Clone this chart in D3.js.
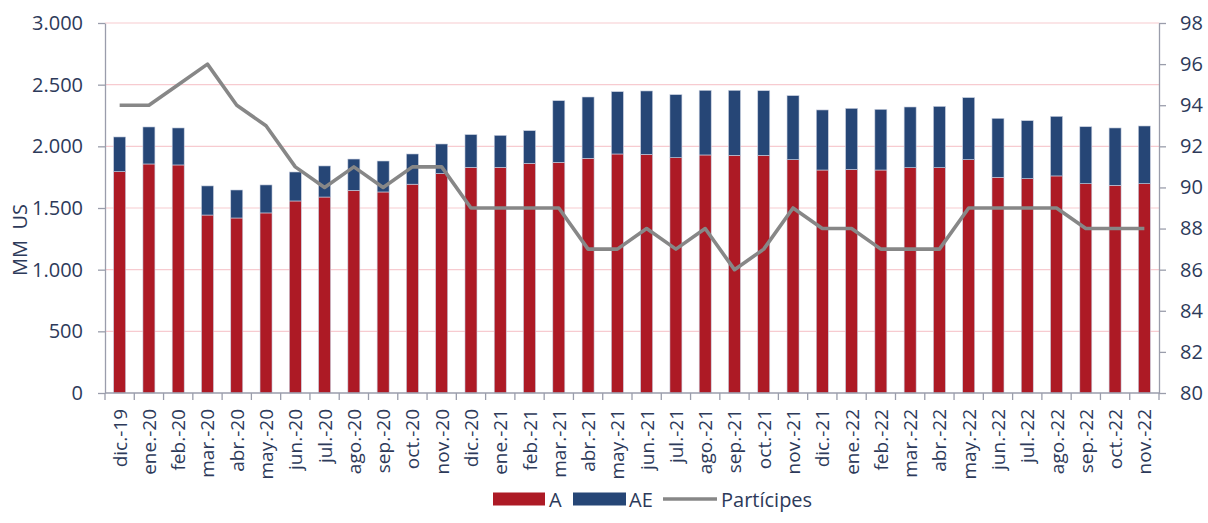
<!DOCTYPE html>
<html>
<head>
<meta charset="utf-8">
<script src="https://cdn.jsdelivr.net/npm/d3@7"></script>
<style>
  body { margin: 0; background: #fff; }
  svg { display: block; font-family: "Open Sans", "Noto Sans", sans-serif; }
</style>
</head>
<body>
<svg id="chart" width="1208" height="523"></svg>
<script>
// months, Dec 2019 .. Nov 2022
var categories = ['dic.-19', 'ene.-20', 'feb.-20', 'mar.-20', 'abr.-20', 'may.-20', 'jun.-20', 'jul.-20',
  'ago.-20', 'sep.-20', 'oct.-20', 'nov.-20', 'dic.-20', 'ene.-21', 'feb.-21', 'mar.-21', 'abr.-21',
  'may.-21', 'jun.-21', 'jul.-21', 'ago.-21', 'sep.-21', 'oct.-21', 'nov.-21', 'dic.-21', 'ene.-22',
  'feb.-22', 'mar.-22', 'abr.-22', 'may.-22', 'jun.-22', 'jul.-22', 'ago.-22', 'sep.-22', 'oct.-22', 'nov.-22'];

// MM US, stacked
var seriesA = [1795, 1857, 1849, 1443, 1419, 1460, 1557, 1589, 1643, 1630, 1693, 1780, 1830, 1830, 1862, 1870,
  1903, 1938, 1935, 1908, 1930, 1927, 1927, 1892, 1808, 1813, 1808, 1827, 1827, 1892, 1749, 1738,
  1760, 1697, 1684, 1697];
var seriesAE = [281, 300, 300, 236, 227, 227, 235, 252, 254, 251, 245, 239, 265, 259, 265, 500,
  497, 505, 514, 511, 524, 527, 524, 519, 487, 495, 492, 492, 497, 503, 478, 470,
  483, 462, 465, 468];

// participants (right axis)
var participes = [94, 94, 95, 96, 94, 93, 91, 90, 91, 90, 91, 91, 89, 89, 89, 89, 87, 87, 88, 87, 88, 86,
  87, 89, 88, 88, 87, 87, 87, 89, 89, 89, 89, 88, 88, 88];

var leftTicks = [0, 500, 1000, 1500, 2000, 2500, 3000];
var rightTicks = [80, 82, 84, 86, 88, 90, 92, 94, 96, 98];

var COL_A = '#AD1A25';
var COL_AE = '#264676';
var COL_LINE = '#878787';
var COL_TEXT = '#2D3A5A';
var COL_AXIS = '#9A9DAB';
var COL_GRID = '#F7CBD0';

var margin = { top: 23, right: 49, bottom: 130, left: 105 };
var svg = d3.select('#chart');
var width = +svg.attr('width') - margin.left - margin.right;
var height = +svg.attr('height') - margin.top - margin.bottom;

var g = svg.append('g').attr('transform', 'translate(' + margin.left + ',' + margin.top + ')');

var xc = d3.scaleBand().domain(categories).range([0, width]);
var y = d3.scaleLinear().domain([0, 3000]).range([height, 0]);
var y2 = d3.scaleLinear().domain([80, 98]).range([height, 0]);
var barW = 12;

// grid
g.selectAll('line.grid')
  .data(leftTicks.slice(1))
  .enter().append('line')
  .attr('class', 'grid')
  .attr('x1', 0).attr('x2', width)
  .attr('y1', function (d) { return y(d); })
  .attr('y2', function (d) { return y(d); })
  .attr('stroke', COL_GRID)
  .attr('stroke-width', 1.2);

// stacked bars
var rows = categories.map(function (c, i) { return { cat: c, A: seriesA[i], AE: seriesAE[i] }; });
var stack = d3.stack().keys(['A', 'AE'])(rows);
var colors = { A: COL_A, AE: COL_AE };

g.selectAll('g.layer')
  .data(stack)
  .enter().append('g')
  .attr('class', 'layer')
  .attr('fill', function (d) { return colors[d.key]; })
  .selectAll('rect')
  .data(function (d) { return d; })
  .enter().append('rect')
  .attr('x', function (d) { return xc(d.data.cat) + (xc.bandwidth() - barW) / 2; })
  .attr('width', barW)
  .attr('y', function (d) { return y(d[1]); })
  .attr('height', function (d) { return y(d[0]) - y(d[1]); })
  .attr('stroke', '#C9D0E0')
  .attr('stroke-width', 0.6);

// participants line
var line = d3.line()
  .x(function (d, i) { return xc(categories[i]) + xc.bandwidth() / 2; })
  .y(function (d) { return y2(d); });

g.append('path')
  .datum(participes)
  .attr('fill', 'none')
  .attr('stroke', COL_LINE)
  .attr('stroke-width', 3.6)
  .attr('stroke-linejoin', 'round')
  .attr('d', line);

// axes
function styleAxis(sel) {
  sel.select('.domain').attr('stroke', COL_AXIS).attr('stroke-width', 1.3);
  sel.selectAll('.tick line').attr('stroke', COL_AXIS).attr('stroke-width', 1.3);
  sel.selectAll('text').attr('fill', COL_TEXT);
}

var fmt = d3.formatLocale({ decimal: ',', thousands: '.', grouping: [3], currency: ['', ''] }).format(',');

var yAxisL = g.append('g')
  .call(d3.axisLeft(y).tickValues(leftTicks).tickFormat(fmt).tickSize(7).tickPadding(15).tickSizeOuter(0))
  .style('font-size', '20px')
  .style('font-family', '"Open Sans", "Noto Sans", sans-serif');
styleAxis(yAxisL);

var yAxisR = g.append('g')
  .attr('transform', 'translate(' + width + ',0)')
  .call(d3.axisRight(y2).tickValues(rightTicks).tickSize(7).tickPadding(14).tickSizeOuter(0))
  .style('font-size', '20px')
  .style('font-family', '"Open Sans", "Noto Sans", sans-serif');
styleAxis(yAxisR);

// x axis: ticks sit between categories
var xAxis = g.append('g').attr('transform', 'translate(0,' + height + ')');
xAxis.append('line')
  .attr('x1', 0).attr('x2', width)
  .attr('stroke', COL_AXIS).attr('stroke-width', 1.3);
xAxis.selectAll('line.sep')
  .data(categories.concat(['_end']))
  .enter().append('line')
  .attr('class', 'sep')
  .attr('x1', function (d, i) { return i * xc.step(); })
  .attr('x2', function (d, i) { return i * xc.step(); })
  .attr('y1', 0).attr('y2', 7)
  .attr('stroke', COL_AXIS).attr('stroke-width', 1.3);
xAxis.selectAll('text')
  .data(categories)
  .enter().append('text')
  .attr('transform', function (d) {
    return 'translate(' + (xc(d) + xc.bandwidth() / 2 + 7) + ',16) rotate(-90)';
  })
  .attr('text-anchor', 'end')
  .attr('fill', COL_TEXT)
  .style('font-size', '19px')
  .text(function (d) { return d; });

// y title
svg.append('text')
  .attr('transform', 'translate(27,' + (margin.top + height / 2 + 32) + ') rotate(-90)')
  .attr('text-anchor', 'middle')
  .attr('fill', COL_TEXT)
  .style('font-size', '20px')
  .style('white-space', 'pre')
  .text('MM  US');

// legend
var legend = svg.append('g').attr('transform', 'translate(493,499)');
var items = [
  { label: 'A', type: 'rect', color: COL_A, sx: 0, w: 52, tx: 56 },
  { label: 'AE', type: 'rect', color: COL_AE, sx: 80, w: 53, tx: 136 },
  { label: 'Partícipes', type: 'line', color: COL_LINE, sx: 170, w: 54, tx: 228 }
];
items.forEach(function (it) {
  if (it.type === 'rect') {
    legend.append('rect').attr('x', it.sx).attr('y', -6.5).attr('width', it.w).attr('height', 13).attr('fill', it.color);
  } else {
    legend.append('line').attr('x1', it.sx).attr('x2', it.sx + it.w).attr('y1', 0).attr('y2', 0)
      .attr('stroke', it.color).attr('stroke-width', 3.6);
  }
  legend.append('text')
    .attr('x', it.tx)
    .attr('y', 7.5)
    .attr('fill', COL_TEXT)
    .style('font-size', '20px')
    .text(it.label);
});
</script>
</body>
</html>
